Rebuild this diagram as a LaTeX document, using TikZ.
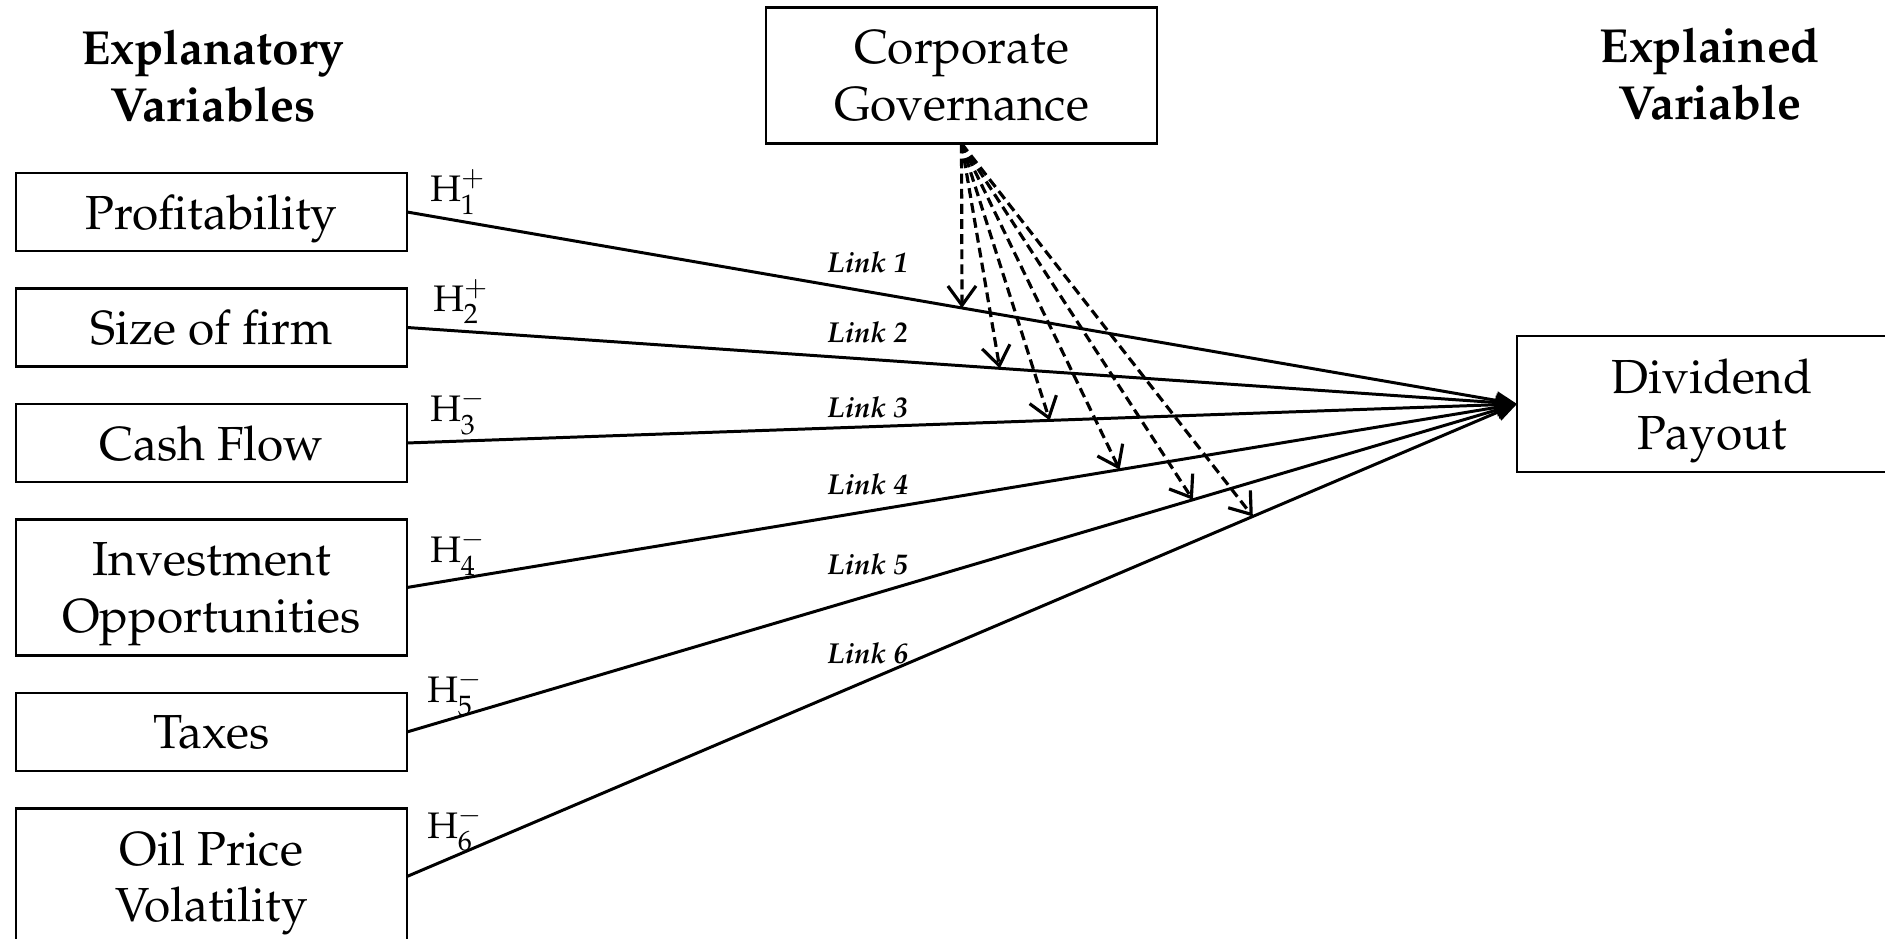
\documentclass[tikz,border=0pt]{standalone}
\usepackage[T1]{fontenc}
\usepackage{mathpazo}
\usepackage{tikz}
\usetikzlibrary{positioning}
\usetikzlibrary{arrows.meta}

\tikzset{
    varbox/.style={draw, line width=0.6pt, minimum width=3.91cm, minimum height=0.78cm,
        inner sep=2pt, outer sep=0pt, text depth=0pt, align=center,
        font=\fontsize{13.6}{16}\selectfont},
    tallbox/.style={varbox, minimum height=1.36cm},
    title/.style={align=center, font=\fontsize{13.6}{16}\selectfont\bfseries},
    link/.style={line width=0.85pt, -{Triangle[length=6pt,width=5pt]}},
    gov/.style={line width=0.9pt, dash pattern=on 2.8pt off 1.5pt,
        -{Straight Barb[length=5.5pt,width=8pt]}},
    lbl/.style={anchor=base, yshift=0.17cm, font=\fontsize{8.2}{10}\selectfont\bfseries\itshape},
    hyp/.style={anchor=base west, inner sep=0.5pt, xshift=0.2cm, font=\fontsize{10.5}{12}\selectfont}
}

\begin{document}
\begin{tikzpicture}
    \useasboundingbox (0,0) rectangle (18.85,9.39);

    % headings
    \node[title] (expl) at (2.13,8.63) {Explanatory\\Variables};
    \node[title] (expd) at (17.10,8.65) {Explained\\Variable};

    % explanatory variables
    \node[varbox] (prof) at (2.115,7.27) {Profitability};
    \node[varbox, below=0.375cm of prof] (size) {Size of firm};
    \node[varbox, below=0.375cm of size] (cash) {Cash Flow};
    \node[tallbox, below=0.375cm of cash] (invest) {Investment\\Opportunities};
    \node[varbox, below=0.375cm of invest] (tax) {Taxes};
    \node[tallbox, below=0.375cm of tax] (oil) {Oil Price\\Volatility};

    \node[tallbox] (cg) at (9.615,8.635) {Corporate\\Governance};
    \node[tallbox, minimum width=3.90cm] (div) at (17.12,5.35) {Dividend\\Payout};

    % links
    \draw[link] (prof.east) -- node[hyp, pos=0, yshift=0.10cm] (h1) {$\mathrm{H}_1^+$}
        node[lbl, pos=.415, yshift=0.02cm] (l1) {Link 1} coordinate[pos=.5] (t1) (div.west);
    \draw[link] (size.east) -- node[hyp, pos=0, xshift=0.03cm, yshift=0.16cm] (h2) {$\mathrm{H}_2^+$}
        node[lbl, pos=.415] (l2) {Link 2} coordinate[pos=.534] (t2) (div.west);
    \draw[link] (cash.east) -- node[hyp, pos=0, yshift=0.21cm] (h3) {$\mathrm{H}_3^-$}
        node[lbl, pos=.415, yshift=-0.08cm] (l3) {Link 3} coordinate[pos=.579] (t3) (div.west);
    \draw[link] (invest.east) -- node[hyp, pos=0, yshift=0.25cm] (h4) {$\mathrm{H}_4^-$}
        node[lbl, pos=.415] (l4) {Link 4} coordinate[pos=.642] (t4) (div.west);
    \draw[link] (tax.east) -- node[hyp, pos=0, xshift=-0.03cm, yshift=0.29cm] (h5) {$\mathrm{H}_5^-$}
        node[lbl, pos=.415, yshift=0.04cm] (l5) {Link 5} coordinate[pos=.708] (t5) (div.west);
    \draw[link] (oil.east) -- node[hyp, pos=0, xshift=-0.03cm, yshift=0.38cm] (h6) {$\mathrm{H}_6^-$}
        node[lbl, pos=.415] (l6) {Link 6} coordinate[pos=.762] (t6) (div.west);

    % moderating effect
    \foreach \t in {t1,t2,t3,t4,t5,t6}
        \draw[gov] (cg.south) -- (\t);
\end{tikzpicture}
\end{document}
